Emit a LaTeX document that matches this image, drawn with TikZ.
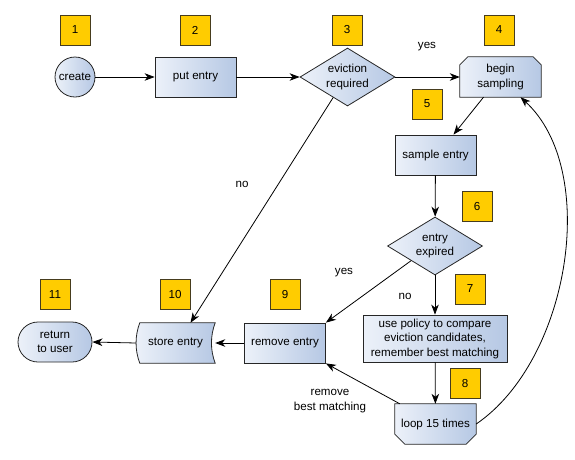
\documentclass[tikz,border=0pt]{standalone}
\usepackage{fontspec}
\setmainfont{Liberation Sans}
\usetikzlibrary{shapes.geometric,shapes.misc,arrows.meta,calc,backgrounds}
\definecolor{boxlight}{RGB}{236,241,249}
\definecolor{boxdark}{RGB}{182,200,228}
\definecolor{tagfill}{RGB}{255,204,0}
\definecolor{tagline}{RGB}{70,60,30}
\begin{document}
\begin{tikzpicture}[x=1pt,y=-1pt,
  font=\fontsize{11.6}{14.5}\selectfont,
  shapefill/.style={draw=black!85, line width=0.8pt, left color=boxlight, right color=boxdark},
  flow/.style={shapefill, align=center, inner sep=2pt},
  procbox/.style={flow, rectangle, minimum width=81pt, minimum height=40pt},
  decision/.style={flow, diamond, aspect=1.64, minimum width=95pt, minimum height=58pt, inner sep=0pt},
  startnode/.style={flow, circle, minimum size=40pt, inner sep=0pt},
  endnode/.style={flow, rounded rectangle, minimum width=78pt, minimum height=40pt},
  textonly/.style={rectangle, align=center, minimum width=81pt, minimum height=40pt, inner sep=2pt},
  tag/.style={draw=tagline, fill=tagfill, minimum size=30pt, inner sep=0pt, line width=0.6pt},
  conn/.style={draw=black, line width=0.8pt, -{Stealth[length=10pt,width=7.5pt,inset=3pt]}},
  lbl/.style={align=center, inner sep=0pt}]
\useasboundingbox (0,0) rectangle (575,459);

% step numbers
\node[tag] (t1) at (75,30) {1};
\node[tag] (t2) at (195,30) {2};
\node[tag] (t3) at (347,30) {3};
\node[tag] (t4) at (499,30) {4};
\node[tag] (t5) at (427,104) {5};
\node[tag] (t6) at (477,206) {6};
\node[tag] (t7) at (470,289) {7};
\node[tag] (t8) at (465,383) {8};
\node[tag] (t9) at (285,294) {9};
\node[tag] (t10) at (175,294) {10};
\node[tag] (t11) at (55,294) {11};

% flow nodes
\node[startnode] (create) at (75,77) {create};
\node[procbox] (put) at (195.5,77) {put entry};
\node[decision] (evict) at (347.5,77) {eviction\\required};
\node[textonly] (begin) at (500.5,77) {begin\\sampling};
\node[procbox] (sample) at (435.5,155) {sample entry};
\node[decision] (expired) at (435,246) {entry\\expired};
\node[procbox, minimum width=144pt, minimum height=47pt] (policy) at (435,338.5) {use policy to compare\\eviction candidates,\\remember best matching};
\node[textonly] (loop) at (435.5,424) {loop 15 times};
\node[procbox] (remove) at (285,343) {remove entry};
\node[textonly, minimum width=79pt] (store) at (175.5,343) {store entry};
\node[endnode] (ret) at (55,342) {return\\to user};

% outlines of the custom shapes
\begin{pgfonlayer}{background}
  \path[shapefill] (begin.south west) -- ($(begin.north west)+(0,8)$)
    -- ($(begin.north west)+(8,0)$) -- ($(begin.north east)+(-8,0)$)
    -- ($(begin.north east)+(0,8)$) -- (begin.south east) -- cycle;
  \path[shapefill] (loop.north west) -- (loop.north east)
    -- ($(loop.south east)+(0,-10)$) -- ($(loop.south east)+(-10,0)$)
    -- ($(loop.south west)+(10,0)$) -- ($(loop.south west)+(0,-10)$) -- cycle;
  \path[shapefill] ($(store.north west)+(4,0)$) -- (store.north east)
    .. controls ($(store.north east)+(-5,13)$) and ($(store.south east)+(-5,-13)$) .. (store.south east)
    -- ($(store.south west)+(4,0)$)
    .. controls ($(store.south west)+(-1,-13)$) and ($(store.north west)+(-1,13)$) .. ($(store.north west)+(4,0)$)
    -- cycle;
\end{pgfonlayer}

% connectors
\draw[conn] (create) -- (put);
\draw[conn] (put) -- (evict);
\draw[conn] (evict) -- (begin);
\draw[conn] ($(evict.south)!0.3!(evict.west)$) -- ([xshift=15pt]store.north);
\draw[conn] ([xshift=-17pt]begin.south) -- ([xshift=18pt]sample.north);
\draw[conn] (sample) -- (expired);
\draw[conn] (expired.south west) -- (remove.north east);
\draw[conn] (expired) -- (policy);
\draw[conn] (policy) -- (loop);
\draw[conn] ([xshift=5pt]loop.north west) -- (remove.south east);
\draw[conn] (loop.east) .. controls (570,360) and (600,170) .. ([xshift=20pt]begin.south);
\draw[conn] (remove) -- (store);
\draw[conn] ([xshift=0.5pt]store.west) -- (ret.east);

% connector labels
\node[lbl] (lyes1) at (427,47) {yes};
\node[lbl] (lno1) at (242,184) {no};
\node[lbl] (lyes2) at (344,273) {yes};
\node[lbl] (lno2) at (405,296) {no};
\node[lbl] (lbest) at (330,401) {remove\\best matching};
\end{tikzpicture}
\end{document}
